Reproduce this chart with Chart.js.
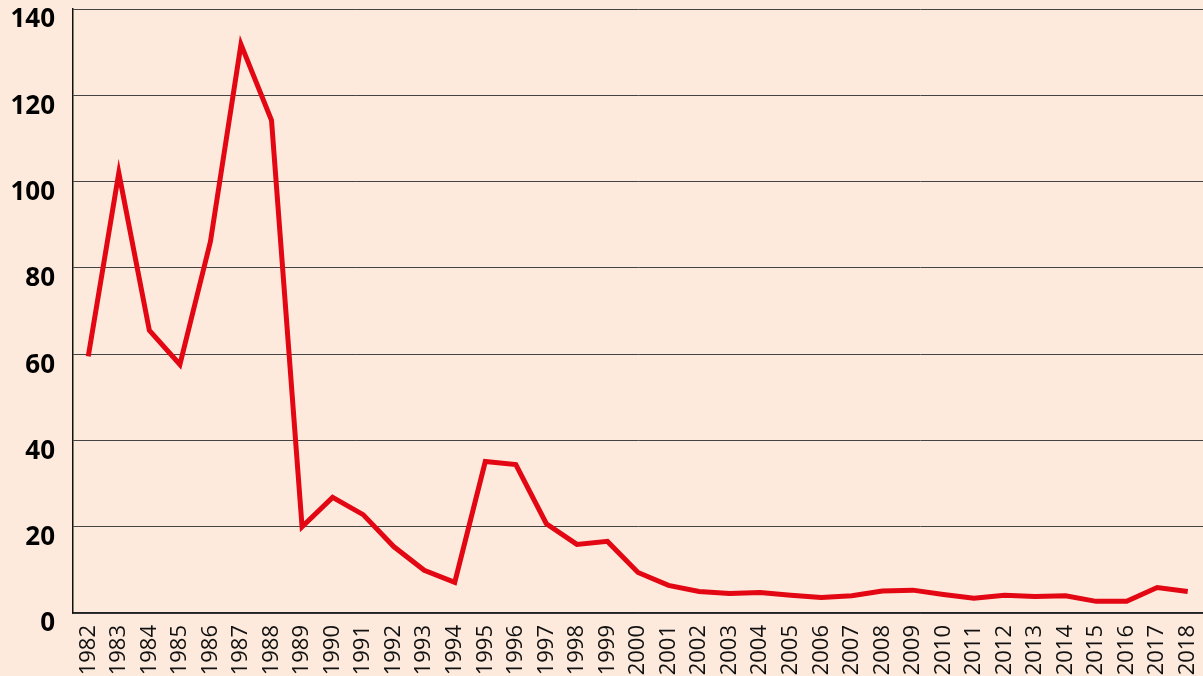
<!DOCTYPE html>
<html lang="en">
<head>
    <meta charset="UTF-8">
    <title>Line chart 1982-2018</title>
    <style>
        html, body {
            margin: 0;
            padding: 0;
            background-color: #fdeadc;
            overflow: hidden;
        }
        #chart-box {
            position: relative;
            width: 1203px;
            height: 676px;
        }
    </style>
    <script src="https://cdn.jsdelivr.net/npm/chart.js"></script>
</head>
<body>
    <div id="chart-box">
        <canvas id="line-chart"></canvas>
    </div>
    <script>
        const years = ['1982', '1983', '1984', '1985', '1986', '1987', '1988', '1989', '1990', '1991',
            '1992', '1993', '1994', '1995', '1996', '1997', '1998', '1999', '2000', '2001',
            '2002', '2003', '2004', '2005', '2006', '2007', '2008', '2009', '2010', '2011',
            '2012', '2013', '2014', '2015', '2016', '2017', '2018'];
        const values = [59.5, 102, 65.5, 57.6, 86.1, 131.8, 114.2, 20, 26.8, 22.8,
            15.4, 9.9, 7.1, 35.1, 34.4, 20.7, 15.9, 16.6, 9.4, 6.4,
            5.0, 4.5, 4.75, 4.1, 3.6, 4.0, 5.1, 5.3, 4.3, 3.4,
            4.1, 3.8, 4.0, 2.7, 2.7, 5.9, 5.0];
        const yTicks = [0, 20, 40, 60, 80, 100, 120, 140];

        const ctx = document.getElementById('line-chart').getContext('2d');
        new Chart(ctx, {
            type: 'line',
            data: {
                labels: years,
                datasets: [{
                    data: values,
                    borderColor: '#e30613',
                    borderWidth: 5,
                    pointRadius: 0,
                    tension: 0,
                    fill: false
                }]
            },
            options: {
                responsive: true,
                maintainAspectRatio: false,
                animation: false,
                layout: { padding: { top: 9, right: 0, left: 0, bottom: 0 } },
                plugins: { legend: { display: false }, tooltip: { enabled: false } },
                scales: {
                    x: {
                        offset: true,
                        afterFit: axis => { axis.height = 63; axis.paddingLeft = 0; axis.paddingRight = 0; },
                        grid: { display: false, drawTicks: false },
                        border: { color: '#222', width: 1.5 },
                        ticks: {
                            autoSkip: false,
                            minRotation: 90,
                            maxRotation: 90,
                            padding: 12,
                            color: '#111',
                            font: { family: '"Open Sans"', size: 22 }
                        }
                    },
                    y: {
                        min: yTicks[0],
                        max: yTicks[yTicks.length - 1],
                        afterBuildTicks: axis => { axis.ticks = yTicks.map(v => ({ value: v })); },
                        afterFit: axis => { axis.width = 73; axis.paddingTop = 0; axis.paddingBottom = 0; },
                        grid: { color: '#444', lineWidth: 1, drawTicks: false },
                        border: { color: '#111', width: 1.5 },
                        ticks: {
                            padding: 18,
                            labelOffset: 11,
                            color: '#000',
                            font: { family: '"Noto Sans"', size: 26, weight: 'bold' }
                        }
                    }
                }
            }
        });
    </script>
</body>
</html>
